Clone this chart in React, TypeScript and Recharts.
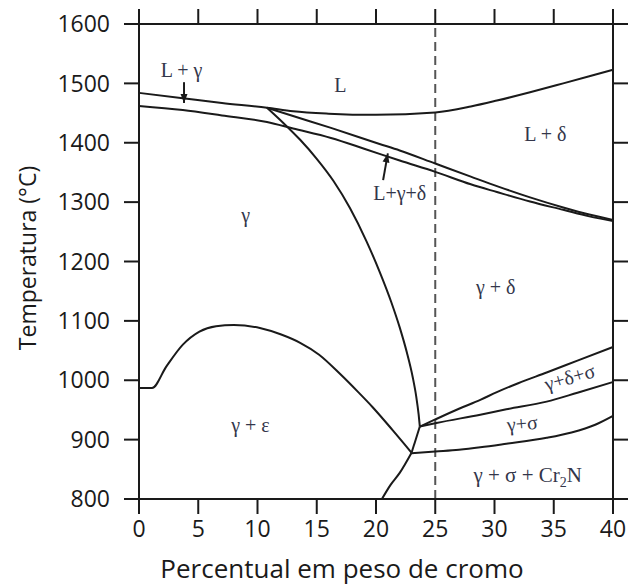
import React from "react";
import {
  LineChart,
  Line,
  XAxis,
  YAxis,
  ReferenceLine,
  ReferenceDot,
} from "recharts";

// Fe-Cr-Ni-N phase diagram section
const xDomain = [0, 40];
const yDomain = [800, 1600];
const xTicks = [0, 5, 10, 15, 20, 25, 30, 35, 40];
const yTicks = [800, 900, 1000, 1100, 1200, 1300, 1400, 1500, 1600];

const liquidusX = [0, 3.7, 7, 10.8, 13, 16, 20, 25, 28, 30.2, 33, 35.8, 38, 40];
const liquidusT = [1484, 1475, 1467, 1459, 1453, 1449, 1447, 1451, 1461, 1471, 1485, 1500, 1512, 1523];

const solidusX = [0, 3.7, 7, 10.8, 13, 16.2, 19, 22, 25, 28, 30.2, 33, 35.8, 38, 40];
const solidusT = [1462, 1455, 1446, 1435, 1424, 1408, 1390, 1370, 1351, 1330, 1317, 1301, 1287, 1276, 1268];

const deltaLiqX = [10.8, 13, 16.2, 20.3, 22, 25, 28, 30.2, 33, 35.8, 38, 40];
const deltaLiqT = [1459, 1445, 1425, 1398, 1387, 1365, 1343, 1327, 1308, 1291, 1279, 1270];

const gammaDeltaX = [10.8, 12.2, 13.6, 15, 16.4, 17.8, 19.2, 20.3, 21.3, 22.0, 22.6, 23.1, 23.4, 23.6, 23.7];
const gammaDeltaT = [1459, 1433, 1405, 1373, 1336, 1290, 1234, 1183, 1131, 1089, 1047, 1005, 972, 942, 922];

const epsilonX = [0, 1.1, 2.3, 3.7, 5.1, 6.5, 8, 10.2, 12, 13.6, 15.2, 17, 18.5, 19.7, 21.4, 23.0];
const epsilonT = [987, 987, 1023, 1060, 1082, 1091, 1093, 1088, 1077, 1063, 1043, 1010, 980, 955, 916, 878];

const nitrideX = [20.5, 21.2, 22.0, 23.0];
const nitrideT = [800, 823, 844, 878];

const linkX = [23.0, 23.7];
const linkT = [878, 922];

const sigmaTopX = [23.7, 25, 27, 28.8, 30.2, 32, 34.4, 37, 40];
const sigmaTopT = [922, 934, 952, 967, 980, 995, 1013, 1033, 1056];

const sigmaMidX = [23.7, 25.1, 28.8, 31, 34.4, 37, 40];
const sigmaMidT = [922, 928, 942, 951, 964, 979, 997];

const sigmaLowX = [23.0, 25, 27, 28.8, 31, 34.4, 36.5, 38.5, 40];
const sigmaLowT = [877, 880, 883, 887, 893, 903, 912, 925, 940];

const arrow1X = [3.8, 3.8];
const arrow1T = [1502, 1467];
const arrow2X = [20.6, 21.0];
const arrow2T = [1337, 1382];

const toPoints = (xs: number[], ts: number[]) => xs.map((x, i) => ({ x, T: ts[i] }));

const curves = [
  { id: "liquidus", x: liquidusX, t: liquidusT, type: "monotone" },
  { id: "solidus", x: solidusX, t: solidusT, type: "monotone" },
  { id: "deltaLiq", x: deltaLiqX, t: deltaLiqT, type: "monotone" },
  { id: "gammaDelta", x: gammaDeltaX, t: gammaDeltaT, type: "monotone" },
  { id: "epsilon", x: epsilonX, t: epsilonT, type: "monotone" },
  { id: "nitride", x: nitrideX, t: nitrideT, type: "monotone" },
  { id: "link", x: linkX, t: linkT, type: "linear" },
  { id: "sigmaTop", x: sigmaTopX, t: sigmaTopT, type: "monotone" },
  { id: "sigmaMid", x: sigmaMidX, t: sigmaMidT, type: "monotone" },
  { id: "sigmaLow", x: sigmaLowX, t: sigmaLowT, type: "monotone" },
  { id: "arrow1", x: arrow1X, t: arrow1T, type: "linear" },
  { id: "arrow2", x: arrow2X, t: arrow2T, type: "linear" },
];

const regionLabels = [
  { text: "L + γ", x: 3.6, t: 1511, angle: 0 },
  { text: "L", x: 17, t: 1485, angle: 0 },
  { text: "L + δ", x: 34.3, t: 1403, angle: 0 },
  { text: "L+γ+δ", x: 22.0, t: 1304, angle: 0 },
  { text: "γ", x: 9.0, t: 1267, angle: 0 },
  { text: "γ + δ", x: 30.1, t: 1145, angle: 0 },
  { text: "γ + ε", x: 9.4, t: 913, angle: 0 },
  { text: "γ+σ", x: 32.4, t: 916, angle: -5 },
  { text: "γ+δ+σ", x: 36.5, t: 994, angle: -16 },
];

const INK = "#1a1a1a";
const LABEL = "#33364a";
const SERIF = "'Liberation Serif', 'Times New Roman', serif";
const SANS = "'Open Sans', sans-serif";
const TICK = 15;
const W = 628;
const H = 587;

const RegionText = ({ cx, cy, text, angle }: any) => (
  <text
    x={cx}
    y={cy}
    textAnchor="middle"
    fill={LABEL}
    fontSize={20}
    fontFamily={SERIF}
    transform={angle ? `rotate(${angle} ${cx} ${cy})` : undefined}
  >
    {text}
  </text>
);

const NitrideText = ({ cx, cy }: any) => (
  <text x={cx} y={cy} textAnchor="middle" fill={LABEL} fontSize={21} fontFamily={SERIF}>
    <tspan>γ + σ + Cr</tspan>
    <tspan dy={5} fontSize={14}>2</tspan>
    <tspan dy={-5}>N</tspan>
  </text>
);

const ArrowHead = ({ cx, cy, angle }: any) => (
  <path
    d="M0,0 L-9,-3.5 L-9,3.5 Z"
    fill={INK}
    transform={`translate(${cx} ${cy}) rotate(${angle})`}
  />
);

const blank = () => "";

// second, transparent chart on top: same plot box, axes on top and right
// give the closed frame with outward ticks
function Frame() {
  return (
    <LineChart width={W} height={H} margin={{ top: 0, right: 0, bottom: 88, left: 139 }}>
      <XAxis
        orientation="top"
        dataKey="x"
        type="number"
        domain={xDomain}
        ticks={xTicks}
        interval={0}
        height={24}
        tickSize={TICK}
        tickFormatter={blank}
        tick={{ fill: "none", fontSize: 1 }}
        axisLine={{ stroke: INK, strokeWidth: 2 }}
        tickLine={{ stroke: INK, strokeWidth: 2 }}
      />
      <YAxis
        orientation="right"
        type="number"
        domain={yDomain}
        ticks={yTicks}
        interval={0}
        width={15}
        tickSize={TICK}
        tickFormatter={blank}
        tick={{ fill: "none", fontSize: 1 }}
        axisLine={{ stroke: INK, strokeWidth: 2 }}
        tickLine={{ stroke: INK, strokeWidth: 2 }}
      />
      <Line
        data={toPoints(liquidusX, liquidusT)}
        dataKey="T"
        stroke="none"
        dot={false}
        activeDot={false}
        isAnimationActive={false}
      />
    </LineChart>
  );
}

export default function App() {
  return (
    <div style={{ position: "absolute", left: 0, top: 0, width: W, height: H, background: "#fff" }}>
      <LineChart width={W} height={H} margin={{ top: 24, right: 15, bottom: 28, left: 79 }}>
        <XAxis
          dataKey="x"
          type="number"
          domain={xDomain}
          ticks={xTicks}
          interval={0}
          height={60}
          tickSize={TICK}
          tickMargin={7}
          axisLine={{ stroke: INK, strokeWidth: 2 }}
          tickLine={{ stroke: INK, strokeWidth: 2 }}
          tick={{ fill: INK, fontSize: 23, fontFamily: SANS }}
          label={() => (
            <text x={342} y={578} textAnchor="middle" fill={INK} fontSize={26} fontFamily={SANS}>
              Percentual em peso de cromo
            </text>
          )}
        />
        <YAxis
          type="number"
          domain={yDomain}
          ticks={yTicks}
          interval={0}
          width={60}
          tickSize={TICK}
          tickMargin={14}
          axisLine={{ stroke: INK, strokeWidth: 2 }}
          tickLine={{ stroke: INK, strokeWidth: 2 }}
          tick={{ fill: INK, fontSize: 23, fontFamily: SANS }}
          label={() => (
            <text
              x={27}
              y={258}
              textAnchor="middle"
              dominantBaseline="central"
              transform="rotate(-90 27 258)"
              fill={INK}
              fontSize={23}
              fontFamily={SANS}
            >
              Temperatura (°C)
            </text>
          )}
        />
        <ReferenceLine x={25} stroke="#555" strokeWidth={2} strokeDasharray="9 5" />
        {curves.map((c) => (
          <Line
            key={c.id}
            data={toPoints(c.x, c.t)}
            dataKey="T"
            type={c.type as any}
            stroke={INK}
            strokeWidth={2}
            dot={false}
            activeDot={false}
            isAnimationActive={false}
          />
        ))}
        <ReferenceDot
          x={arrow1X[1]}
          y={arrow1T[1]}
          r={0}
          shape={(p: any) => <ArrowHead {...p} angle={90} />}
        />
        <ReferenceDot
          x={arrow2X[1]}
          y={arrow2T[1]}
          r={0}
          shape={(p: any) => <ArrowHead {...p} angle={-78} />}
        />
        {regionLabels.map((l) => (
          <ReferenceDot
            key={l.text}
            x={l.x}
            y={l.t}
            r={0}
            shape={(p: any) => <RegionText {...p} text={l.text} angle={l.angle} />}
          />
        ))}
        <ReferenceDot x={32.8} y={829} r={0} shape={(p: any) => <NitrideText {...p} />} />
      </LineChart>
      <div style={{ position: "absolute", left: 0, top: 0, pointerEvents: "none" }}>
        <Frame />
      </div>
    </div>
  );
}
